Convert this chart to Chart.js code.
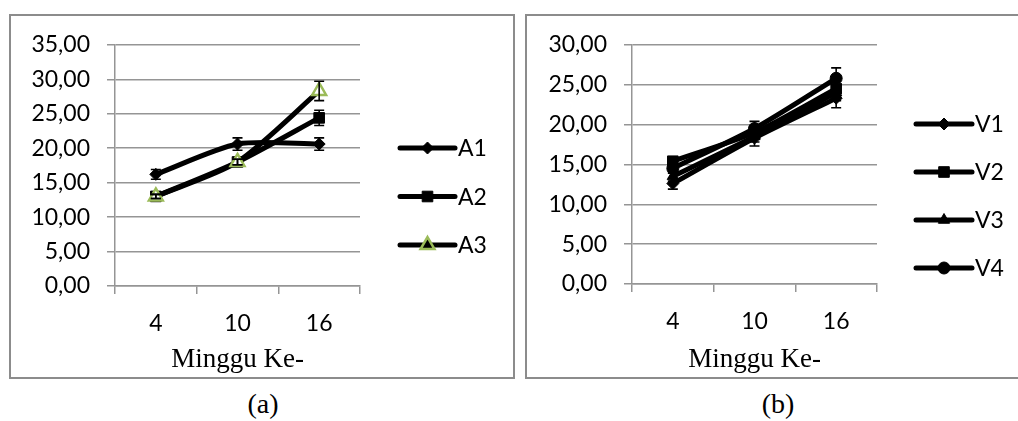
<!DOCTYPE html>
<html>
<head>
<meta charset="utf-8">
<script src="https://cdn.jsdelivr.net/npm/chart.js@4"></script>
<style>
  body { margin: 0; background: #fff; width: 1018px; height: 421px; position: relative; overflow: hidden; }
  canvas { position: absolute; }
  .frame { position: absolute; border: 2px solid #8c8c8c; box-sizing: border-box; pointer-events: none; }
  .cap { position: absolute; font-family: "Liberation Serif", serif; font-size: 28px; transform: translateX(-50%); }
</style>
</head>
<body>
<canvas id="chartA" width="506" height="365" style="left:9px;top:14px"></canvas>
<div class="frame" style="left:9px;top:14px;width:506px;height:365px"></div>
<canvas id="chartB" width="500" height="365" style="left:525px;top:14px"></canvas>
<div class="frame" style="left:525px;top:14px;width:500px;height:365px"></div>
<div class="cap" style="left:263px;top:388px">(a)</div>
<div class="cap" style="left:778px;top:388px">(b)</div>
<script>
const weeks = ['4', '10', '16'];

// panel (a)
const a1 = [16.2, 20.6, 20.6];
const a2 = [13.0, 18.0, 24.4];
const a3 = [13.0, 18.0, 28.3];
const a1Err = [0.7, 0.9, 0.9];
const a2Err = [0.3, 0.4, 1.1];
const a3Err = [0.3, 0.4, 1.4];

// panel (b)
const v1 = [12.6, 18.3, 23.3];
const v2 = [15.4, 19.0, 24.5];
const v3 = [13.5, 18.5, 24.0];
const v4 = [14.5, 19.5, 25.8];
const v1Err = [0.7, 1.0, 1.2];
const v2Err = [0.5, 0.6, 1.0];
const v3Err = [0.6, 0.7, 1.0];
const v4Err = [0.6, 0.9, 1.3];

const gray = '#959595';
const tickFont = { family: 'Lato', size: 23 };

const errorBars = {
  id: 'errorBars',
  afterDatasetsDraw(chart) {
    const ctx = chart.ctx;
    const y = chart.scales.y;
    ctx.save();
    ctx.strokeStyle = '#000';
    ctx.lineWidth = 1.6;
    chart.data.datasets.forEach((ds, i) => {
      const meta = chart.getDatasetMeta(i);
      meta.data.forEach((pt, j) => {
        const top = y.getPixelForValue(ds.data[j] + ds.errors[j]);
        const bot = y.getPixelForValue(ds.data[j] - ds.errors[j]);
        ctx.beginPath();
        ctx.moveTo(pt.x, top); ctx.lineTo(pt.x, bot);
        ctx.moveTo(pt.x - 5, top); ctx.lineTo(pt.x + 5, top);
        ctx.moveTo(pt.x - 5, bot); ctx.lineTo(pt.x + 5, bot);
        ctx.stroke();
      });
    });
    ctx.restore();
  }
};

// legend: line with marker in the middle, like the spreadsheet one
const sideLegend = {
  id: 'sideLegend',
  afterDraw(chart, args, opts) {
    const ctx = chart.ctx;
    ctx.save();
    chart.data.datasets.forEach((ds, i) => {
      const yy = opts.top + i * opts.gap;
      ctx.strokeStyle = '#000';
      ctx.lineWidth = 5;
      ctx.lineCap = 'round';
      ctx.beginPath();
      ctx.moveTo(opts.x1, yy); ctx.lineTo(opts.x2, yy);
      ctx.stroke();
      ctx.lineCap = 'butt';
      ctx.fillStyle = ds.legendFill || ds.pointBackgroundColor;
      ctx.strokeStyle = ds.pointBorderColor;
      ctx.lineWidth = ds.pointBorderWidth;
      Chart.helpers.drawPoint(ctx, { pointStyle: ds.pointStyle, radius: ds.pointRadius, rotation: 0, borderWidth: ds.pointBorderWidth }, (opts.x1 + opts.x2) / 2, yy);
      ctx.fillStyle = '#000';
      ctx.font = '23px Lato';
      ctx.textBaseline = 'middle';
      ctx.fillText(ds.label, opts.x2 + 3, yy + 1);
    });
    ctx.restore();
  }
};

function series(label, data, errors, style, radius, order, extra) {
  return Object.assign({
    label, data, errors, order,
    borderColor: '#000', borderWidth: 5, tension: 0.25,
    pointStyle: style, pointRadius: radius, pointHoverRadius: radius,
    pointBackgroundColor: '#000', pointBorderColor: '#000', pointBorderWidth: 1
  }, extra || {});
}

function makeChart(id, datasets, yMax, area, legend) {
  new Chart(document.getElementById(id), {
    type: 'line',
    data: { labels: weeks, datasets },
    plugins: [errorBars, sideLegend],
    options: {
      responsive: false,
      animation: false,
      layout: { padding: { left: 0, top: area.top, right: area.right, bottom: 0 } },
      plugins: { legend: { display: false }, tooltip: { enabled: false }, sideLegend: legend },
      scales: {
        x: {
          offset: true,
          grid: { offset: true, drawOnChartArea: false, drawTicks: true, tickLength: 8, color: gray, lineWidth: 1.5 },
          border: { color: gray, width: 1.5 },
          ticks: { font: tickFont, color: '#000', padding: 16 },
          title: { display: true, text: 'Minggu Ke-', color: '#000', font: { family: 'Liberation Serif', size: 27, lineHeight: 1.2 }, padding: { top: 0, bottom: 3 } },
          afterFit(s) { s.height = area.xh; }
        },
        y: {
          min: 0, max: yMax,
          grid: { color: gray, lineWidth: 1.5, tickLength: 8 },
          border: { color: gray, width: 1.5 },
          ticks: { stepSize: 5, font: tickFont, color: '#000', padding: 17, callback: v => v.toFixed(2).replace('.', ',') },
          afterFit(s) { s.width = area.yw; }
        }
      }
    }
  });
}

makeChart('chartA', [
  series('A1', a1, a1Err, 'rectRot', 6, 2),
  series('A2', a2, a2Err, 'rect', 7.5, 1),
  series('A3', a3, a3Err, 'triangle', 8, 0, { pointBackgroundColor: '#fff', pointBorderColor: '#9bbb59', pointBorderWidth: 2.5, legendFill: '#000' })
], 35, { top: 29, right: 155, xh: 93, yw: 106 }, { x1: 391, x2: 446, top: 134, gap: 48.5 });

makeChart('chartB', [
  series('V1', v1, v1Err, 'rectRot', 6, 3),
  series('V2', v2, v2Err, 'rect', 7.5, 2),
  series('V3', v3, v3Err, 'triangle', 6.5, 1),
  series('V4', v4, v4Err, 'circle', 6, 0)
], 30, { top: 29, right: 148, xh: 95, yw: 107 }, { x1: 391, x2: 447, top: 110, gap: 48 });
</script>
</body>
</html>
